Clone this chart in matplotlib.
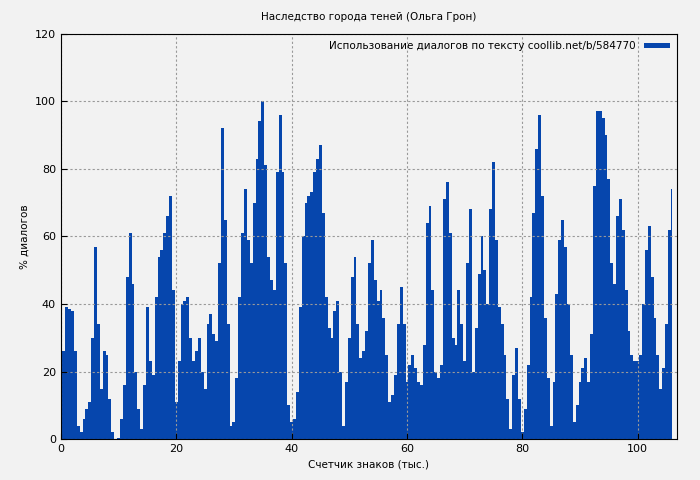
import numpy as np
import matplotlib.pyplot as plt

title = "Наследство города теней (Ольга Грон)"
legend_label = "Использование диалогов по тексту coollib.net/b/584770"
x_label = "Счетчик знаков (тыс.)"
y_label = "% диалогов"

# values every 0.5 thousand characters
dialog_pct = [
    10, 26, 39, 38.5, 38, 26, 4, 2, 6, 9, 11, 30, 57, 34, 15, 26, 25, 12, 2, 0,
    0.5, 6, 16, 48, 61, 46, 20, 9, 3, 16, 39, 23, 19, 42, 54, 56, 61, 66, 72, 44,
    11, 23, 40, 41, 42, 30, 23, 26, 30, 20, 15, 34, 37, 31, 29, 52, 92, 65, 34, 4,
    5, 18, 42, 61, 74, 59, 52, 70, 83, 94, 100, 81, 54, 47, 44, 79, 96, 79, 52, 10,
    5, 6, 14, 39, 60, 70, 72, 73, 79, 83, 87, 67, 42, 33, 30, 38, 41, 20, 4, 17,
    30, 48, 54, 34, 24, 26, 32, 52, 59, 47, 41, 44, 36, 25, 11, 13, 19, 34, 45, 34,
    17, 22, 25, 21, 17, 16, 28, 64, 69, 44, 20, 18, 22, 71, 76, 61, 30, 28, 44, 34,
    23, 52, 68, 20, 33, 49, 60, 50, 40, 68, 82, 59, 39, 34, 25, 12, 3, 19, 27, 12,
    2, 9, 22, 42, 67, 86, 96, 72, 36, 18, 4, 17, 43, 59, 65, 57, 40, 25, 5, 10,
    17, 21, 24, 17, 31, 75, 97, 97, 95, 90, 77, 52, 46, 66, 71, 62, 44, 32, 25, 23,
    23, 25, 40, 56, 63, 48, 36, 25, 15, 21, 34, 62, 74,
]
chars_k = np.arange(len(dialog_pct)) * 0.5

color = "#0646ad"
bg = "#f2f2f2"

fig, ax = plt.subplots(figsize=(7, 4.8), dpi=100)
fig.patch.set_facecolor(bg)
ax.set_facecolor(bg)

ax.fill_between(chars_k, dialog_pct, step="mid", color=color, linewidth=0, label=legend_label)

ax.set_xlim(0, 106.8)
ax.set_ylim(0, 120)
ax.set_xticks(range(0, 101, 20))
ax.set_yticks(range(0, 121, 20))
ax.tick_params(labelsize=8, direction="in", length=4)
ax.grid(True, color="#999999", linestyle=(0, (2, 2)), linewidth=0.8)
ax.set_title(title, fontsize=7.5, pad=10)
ax.set_xlabel(x_label, fontsize=7.5)
ax.set_ylabel(y_label, fontsize=7.5)

leg = ax.legend(loc="upper right", fontsize=7.5, frameon=False, markerfirst=False,
                handlelength=2.5, handleheight=0.4, borderaxespad=0.3)

plt.subplots_adjust(left=0.087, right=0.967, top=0.93, bottom=0.085)
plt.savefig("out.png", facecolor=bg)
